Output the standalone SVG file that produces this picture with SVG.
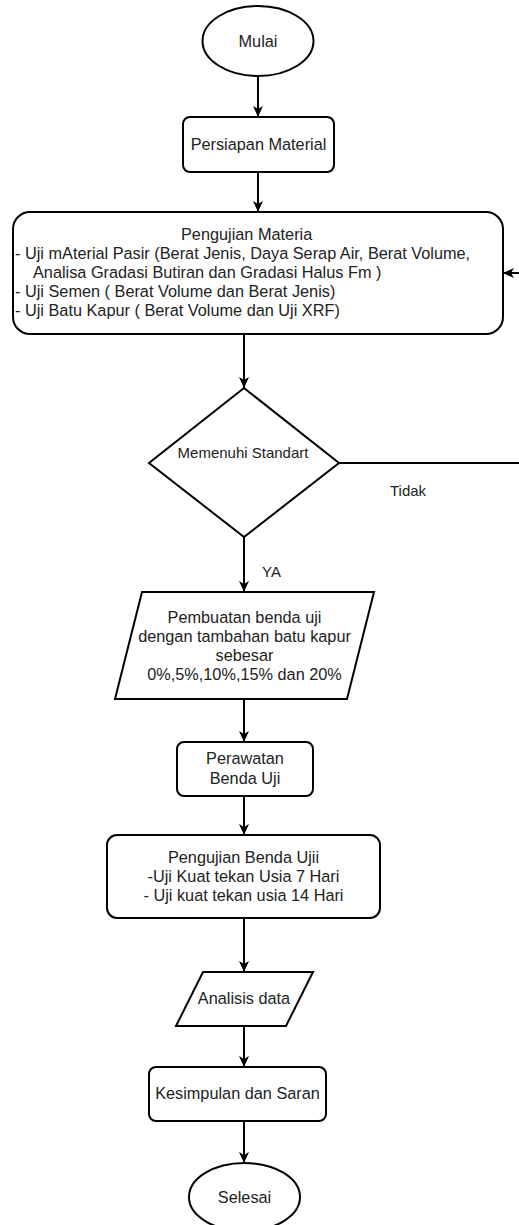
<svg xmlns="http://www.w3.org/2000/svg" width="519" height="1225" viewBox="0 0 519 1225">
<defs>
<marker id="arr" markerUnits="userSpaceOnUse" markerWidth="12" markerHeight="12" refX="11" refY="5" orient="auto">
<path d="M0,0 L11,5 L0,10 L3,5 z" fill="#000"/>
</marker>
<style>
.s{fill:#fff;stroke:#000;stroke-width:2}
.t{font-family:"Liberation Sans",Arial,sans-serif;font-size:16.3px;fill:#222}
.c{text-anchor:middle}
.e{fill:none;stroke:#000;stroke-width:2}
</style>
</defs>
<rect width="519" height="1225" fill="#fff"/>
<g id="connectors">
<line class="e" x1="258" y1="76" x2="258" y2="117" marker-end="url(#arr)"/>
<line class="e" x1="258" y1="172" x2="258" y2="212" marker-end="url(#arr)"/>
<line class="e" x1="244" y1="334" x2="244" y2="388" marker-end="url(#arr)"/>
<line class="e" x1="339" y1="463" x2="520" y2="463"/>
<line class="e" x1="520" y1="273" x2="503" y2="273" marker-end="url(#arr)"/>
<line class="e" x1="244" y1="537" x2="244" y2="592" marker-end="url(#arr)"/>
<line class="e" x1="244" y1="699" x2="244" y2="742" marker-end="url(#arr)"/>
<line class="e" x1="244" y1="796" x2="244" y2="835" marker-end="url(#arr)"/>
<line class="e" x1="244" y1="918" x2="244" y2="972" marker-end="url(#arr)"/>
<line class="e" x1="244" y1="1026" x2="244" y2="1067" marker-end="url(#arr)"/>
<line class="e" x1="244" y1="1121" x2="244" y2="1163" marker-end="url(#arr)"/>
<text class="t" x="390" y="496" style="font-size:15px">Tidak</text>
<text class="t" x="262" y="577" style="font-size:15px">YA</text>
</g>
<g id="mulai">
<ellipse class="s" cx="258" cy="41" rx="55.5" ry="35"/>
<text class="t c" x="258" y="47">Mulai</text>
</g>
<g id="persiapan">
<rect class="s" x="183" y="117" width="151" height="55" rx="7"/>
<text class="t c" x="258.5" y="150">Persiapan Material</text>
</g>
<g id="pengujian-material">
<rect class="s" x="13" y="212" width="490" height="122" rx="17"/>
<text class="t" x="181" y="240">Pengujian Materia</text>
<text class="t" x="15" y="259">- Uji mAterial Pasir (Berat Jenis, Daya Serap Air, Berat Volume,</text>
<text class="t" x="33" y="278">Analisa Gradasi Butiran dan Gradasi Halus Fm )</text>
<text class="t" x="15" y="297">- Uji Semen ( Berat Volume dan Berat Jenis)</text>
<text class="t" x="15" y="316">- Uji Batu Kapur ( Berat Volume dan Uji XRF)</text>
</g>
<g id="keputusan">
<polygon class="s" points="244,388 339,463 244,537 149,463"/>
<text class="t c" x="243" y="458" style="font-size:15px">Memenuhi Standart</text>
</g>
<g id="pembuatan">
<polygon class="s" points="142,592 374,592 347,699 115,699"/>
<text class="t c" x="244.5" y="623">Pembuatan benda uji</text>
<text class="t c" x="244.5" y="642">dengan tambahan batu kapur</text>
<text class="t c" x="244.5" y="661">sebesar</text>
<text class="t c" x="244.5" y="680">0%,5%,10%,15% dan 20%</text>
</g>
<g id="perawatan">
<rect class="s" x="177" y="742" width="136" height="54" rx="7"/>
<text class="t c" x="245" y="764">Perawatan</text>
<text class="t c" x="245" y="784">Benda Uji</text>
</g>
<g id="pengujian-benda">
<rect class="s" x="107" y="835" width="273" height="83" rx="10"/>
<text class="t c" x="243.5" y="863">Pengujian Benda Ujii</text>
<text class="t c" x="243.5" y="882">-Uji Kuat tekan Usia 7 Hari</text>
<text class="t c" x="243.5" y="901">- Uji kuat tekan usia 14 Hari</text>
</g>
<g id="analisis">
<polygon class="s" points="203,972 313,972 286,1026 176,1026"/>
<text class="t c" x="244" y="1004">Analisis data</text>
</g>
<g id="kesimpulan">
<rect class="s" x="149" y="1067" width="177" height="54" rx="7"/>
<text class="t c" x="237.5" y="1099">Kesimpulan dan Saran</text>
</g>
<g id="selesai">
<ellipse class="s" cx="244.5" cy="1197" rx="55.5" ry="34"/>
<text class="t c" x="244.5" y="1203">Selesai</text>
</g>
</svg>
